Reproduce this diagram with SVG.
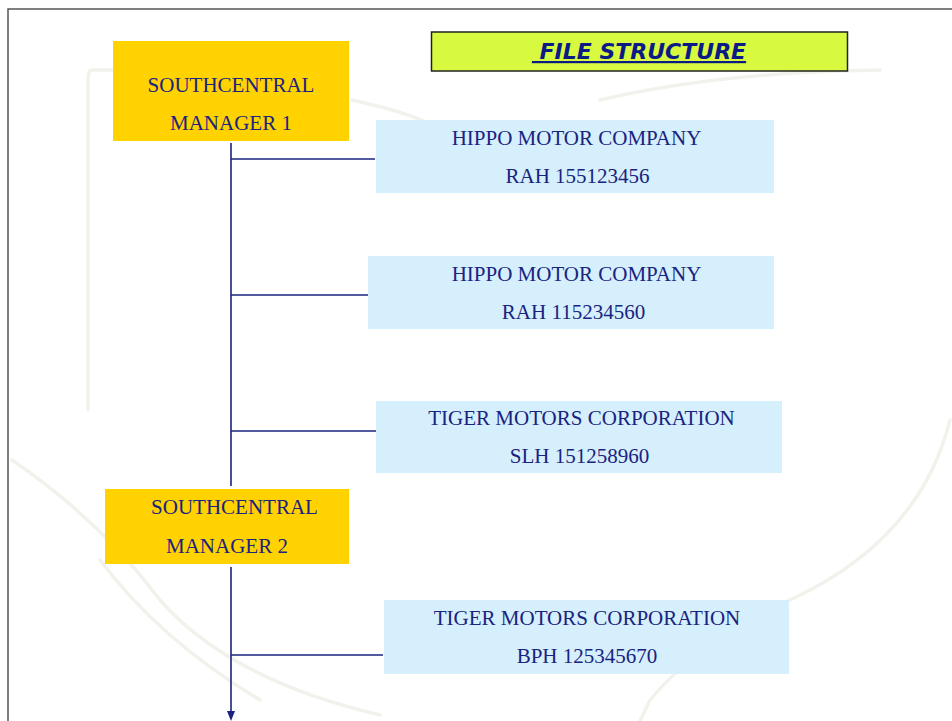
<svg xmlns="http://www.w3.org/2000/svg" width="952" height="721" viewBox="0 0 952 721">
<style>
.bg{fill:none;stroke:#f2f2ec;stroke-width:3.5;stroke-linecap:round}
.mgr{fill:#ffd200}
.co{fill:#d5effc}
.t{font-family:"Liberation Serif","Times New Roman",serif;font-size:21px;fill:#1a2380;text-anchor:middle}
.ln{stroke:#1a2380;stroke-width:1.6;fill:none}
</style>
<defs>
<marker id="arr" markerWidth="10" markerHeight="8" refX="5" refY="4" orient="auto" markerUnits="userSpaceOnUse">
<path d="M0,0 L10,4 L0,8 z" fill="#1a2380"/>
</marker>
</defs>
<rect width="952" height="721" fill="#ffffff"/>
<g id="background">
<path class="bg" d="M112,70 L92,70 Q88,70 88,80 L88,410"/>
<path class="bg" d="M352,100 Q420,115 440,130"/>
<path class="bg" d="M600,100 Q720,72 880,70"/>
<path class="bg" d="M12,460 Q100,520 160,600 Q230,680 380,715"/>
<path class="bg" d="M950,420 Q920,540 790,600 Q700,640 650,700 L640,721"/>
<path class="bg" d="M100,560 Q160,640 260,700"/>
</g>
<path d="M8,721 L8,9 L952,9" fill="none" stroke="#555" stroke-width="1.5"/>
<g id="title">
<rect x="431.5" y="32" width="416" height="39" fill="#d7fa40" stroke="#222" stroke-width="1.5"/>
<text x="639" y="59" style="white-space:pre" font-family="'DejaVu Sans',Verdana,sans-serif" font-size="22" font-weight="bold" font-style="italic" fill="#0c1a85" text-anchor="middle" text-decoration="underline"> FILE STRUCTURE</text>
</g>
<g id="connectors">
<line class="ln" x1="231" y1="143" x2="231" y2="486"/>
<line class="ln" x1="231" y1="159" x2="375" y2="159"/>
<line class="ln" x1="231" y1="295" x2="368" y2="295"/>
<line class="ln" x1="231" y1="431" x2="376" y2="431"/>
<line class="ln" x1="231" y1="567" x2="231" y2="716" marker-end="url(#arr)"/>
<line class="ln" x1="231" y1="655" x2="383" y2="655"/>
</g>
<g id="manager1">
<rect class="mgr" x="113" y="41" width="236" height="100"/>
<text class="t" x="231" y="92">SOUTHCENTRAL</text>
<text class="t" x="231" y="130">MANAGER 1</text>
</g>
<g id="hippo1">
<rect class="co" x="376" y="120" width="398" height="73"/>
<text class="t" x="576.5" y="145">HIPPO MOTOR COMPANY</text>
<text class="t" x="577.5" y="183">RAH 155123456</text>
</g>
<g id="hippo2">
<rect class="co" x="368" y="256" width="406" height="73"/>
<text class="t" x="576.5" y="281">HIPPO MOTOR COMPANY</text>
<text class="t" x="573.5" y="319">RAH 115234560</text>
</g>
<g id="tiger1">
<rect class="co" x="376" y="401" width="406" height="72"/>
<text class="t" x="581.5" y="425">TIGER MOTORS CORPORATION</text>
<text class="t" x="579.5" y="463">SLH 151258960</text>
</g>
<g id="manager2">
<rect class="mgr" x="105" y="489" width="244" height="75"/>
<text class="t" x="234.5" y="514">SOUTHCENTRAL</text>
<text class="t" x="227" y="553">MANAGER 2</text>
</g>
<g id="tiger2">
<rect class="co" x="384" y="600" width="405" height="74"/>
<text class="t" x="587" y="625">TIGER MOTORS CORPORATION</text>
<text class="t" x="587" y="663">BPH 125345670</text>
</g>
</svg>
